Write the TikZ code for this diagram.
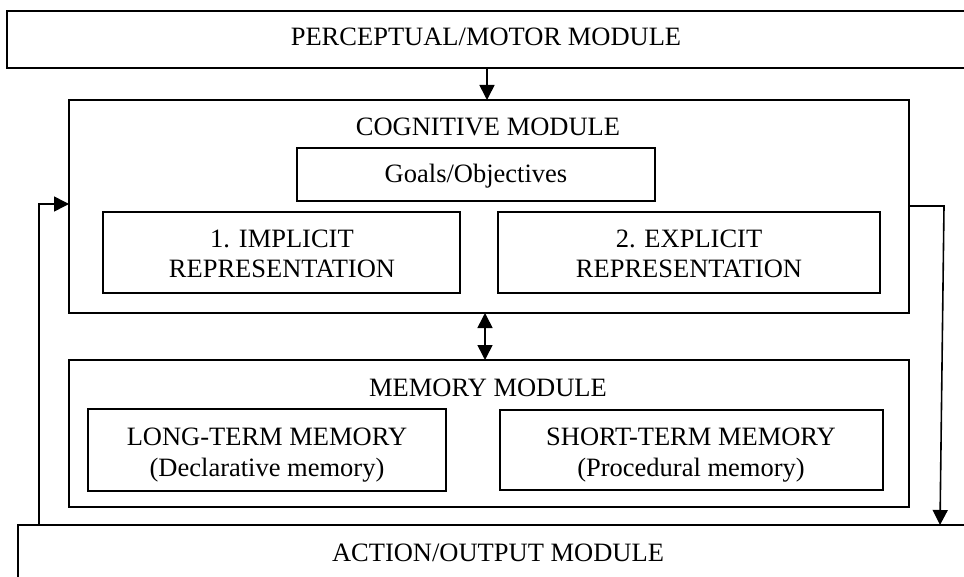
\documentclass[tikz,border=0pt]{standalone}
\usepackage{fontspec}
\setmainfont{Liberation Serif}
\usetikzlibrary{arrows.meta}
\tikzset{
  box/.style={draw, line width=1.5bp, inner sep=0pt, outer sep=0pt, anchor=north west},
  txt/.style={inner sep=0pt, anchor=base, font=\fontsize{26.5bp}{30bp}\selectfont},
  arr/.style={line width=1.6bp, -{Triangle[length=15bp,width=15bp]}},
  darr/.style={line width=1.6bp, {Triangle[length=15bp,width=15bp]}-{Triangle[length=15bp,width=15bp]}}
}
\begin{document}
\begin{tikzpicture}[x=1bp,y=-1bp]
\useasboundingbox (0,0) rectangle (964,577);
\clip (0,0) rectangle (964,577);
\fill[white] (0,0) rectangle (964,577);
% boxes
\node[box, minimum width=963bp, minimum height=57bp] (perc) at (7,11) {};
\node[box, minimum width=840bp, minimum height=213bp] (cog) at (69,100) {};
\node[box, minimum width=358bp, minimum height=53bp] (goals) at (297,148) {};
\node[box, minimum width=357bp, minimum height=81bp] (impl) at (103,212) {};
\node[box, minimum width=382bp, minimum height=81bp] (expl) at (498,212) {};
\node[box, minimum width=840bp, minimum height=147bp] (mem) at (69,360) {};
\node[box, minimum width=358bp, minimum height=82bp] (ltm) at (88,409) {};
\node[box, minimum width=383bp, minimum height=80bp] (stm) at (500,410) {};
\node[box, minimum width=962bp, minimum height=80bp] (act) at (18,525) {};
% texts
\node[txt] (perct) at (486,46) {PERCEPTUAL/MOTOR MODULE};
\node[txt] (cogt) at (488,136) {COGNITIVE MODULE};
\node[txt] (goalst) at (476,183) {Goals/Objectives};
\node[txt] (implt1) at (282,248) {1. IMPLICIT};
\node[txt] (implt2) at (282,278) {REPRESENTATION};
\node[txt] (explt1) at (689,248) {2. EXPLICIT};
\node[txt] (explt2) at (689,278) {REPRESENTATION};
\node[txt] (memt) at (488,396) {MEMORY MODULE};
\node[txt] (ltmt1) at (267,445) {LONG-TERM MEMORY};
\node[txt] (ltmt2) at (267,476) {(Declarative memory)};
\node[txt] (stmt1) at (691,445) {SHORT-TERM MEMORY};
\node[txt] (stmt2) at (691,476) {(Procedural memory)};
\node[txt] (actt) at (498,561) {ACTION/OUTPUT MODULE};
% connectors
\coordinate (P1) at (487,68);
\coordinate (C1) at (487,100);
\draw[arr] (P1) -- (C1);
\coordinate (C2) at (485,313);
\coordinate (M1) at (485,360);
\draw[darr] (C2) -- (M1);
\coordinate (L1) at (39,525);
\coordinate (L2) at (69,204);
\draw[arr] (L1) |- (L2);
\coordinate (R1) at (909,206);
\coordinate (R2) at (944,206);
\coordinate (R3) at (940,525);
\draw[arr] (R1) -- (R2) -- (R3);
\end{tikzpicture}
\end{document}
